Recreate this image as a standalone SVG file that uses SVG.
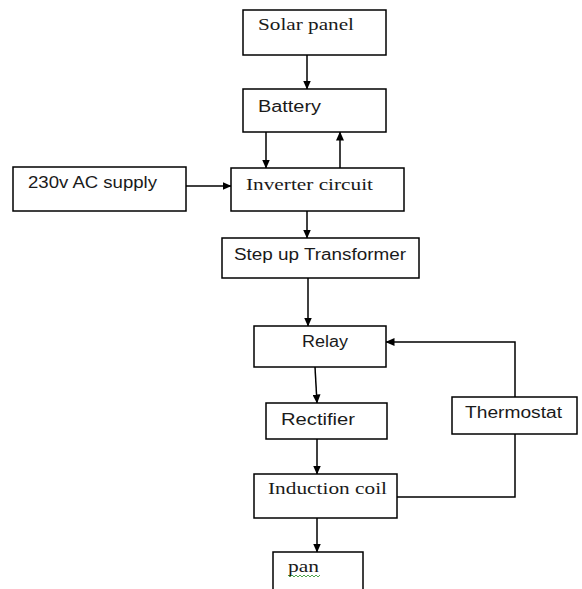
<svg xmlns="http://www.w3.org/2000/svg" width="582" height="589" viewBox="0 0 582 589">
<style>
.box{fill:#fff;stroke:#000;stroke-width:1.5}
.ln{fill:none;stroke:#000;stroke-width:1.5}
.sans{font-family:"Liberation Sans",Arial,sans-serif;font-size:16px;fill:#1a1a1a}
.serif{font-family:"Liberation Serif","Times New Roman",serif;font-size:17px;fill:#1a1a1a}
</style>
<defs>
<marker id="ah" markerWidth="9" markerHeight="8" refX="8.5" refY="4" orient="auto" markerUnits="userSpaceOnUse">
<path d="M0,0 L9,4 L0,8 Z" fill="#000"/>
</marker>
</defs>
<rect width="582" height="589" fill="#fff"/>
<g id="connectors">
<line class="ln" x1="307" y1="55" x2="307" y2="89" marker-end="url(#ah)"/>
<line class="ln" x1="266" y1="132" x2="266" y2="168" marker-end="url(#ah)"/>
<line class="ln" x1="340" y1="168" x2="340" y2="132" marker-end="url(#ah)"/>
<line class="ln" x1="186" y1="186" x2="231" y2="186" marker-end="url(#ah)"/>
<line class="ln" x1="307" y1="211" x2="307" y2="238" marker-end="url(#ah)"/>
<line class="ln" x1="308" y1="278" x2="308" y2="326" marker-end="url(#ah)"/>
<line class="ln" x1="315" y1="367" x2="317" y2="403" marker-end="url(#ah)"/>
<polyline class="ln" points="515,397 515,342 386,342" marker-end="url(#ah)"/>
<line class="ln" x1="317" y1="439" x2="317" y2="474" marker-end="url(#ah)"/>
<polyline class="ln" points="515,434 515,497 397,497"/>
<line class="ln" x1="317" y1="518" x2="317" y2="552" marker-end="url(#ah)"/>
</g>
<g id="solar">
<rect class="box" x="243" y="10" width="143" height="45"/>
<text class="serif" x="258" y="30" textLength="96" lengthAdjust="spacingAndGlyphs">Solar panel</text>
</g>
<g id="battery">
<rect class="box" x="243" y="89" width="143" height="43"/>
<text class="sans" x="258" y="112" textLength="63" lengthAdjust="spacingAndGlyphs">Battery</text>
</g>
<g id="ac">
<rect class="box" x="13" y="167" width="173" height="44"/>
<text class="sans" x="28" y="188" textLength="129" lengthAdjust="spacingAndGlyphs">230v AC supply</text>
</g>
<g id="inverter">
<rect class="box" x="231" y="168" width="173" height="43"/>
<text class="serif" x="246" y="190" textLength="127" lengthAdjust="spacingAndGlyphs">Inverter circuit</text>
</g>
<g id="transformer">
<rect class="box" x="222" y="238" width="197" height="40"/>
<text class="sans" x="234" y="260" textLength="172" lengthAdjust="spacingAndGlyphs">Step up Transformer</text>
</g>
<g id="relay">
<rect class="box" x="254" y="326" width="132" height="41"/>
<text class="sans" x="302" y="347" textLength="46" lengthAdjust="spacingAndGlyphs">Relay</text>
</g>
<g id="rectifier">
<rect class="box" x="266" y="403" width="121" height="36"/>
<text class="sans" x="281" y="425" textLength="74" lengthAdjust="spacingAndGlyphs">Rectifier</text>
</g>
<g id="thermostat">
<rect class="box" x="452" y="397" width="125" height="37"/>
<text class="sans" x="465" y="418" textLength="97" lengthAdjust="spacingAndGlyphs">Thermostat</text>
</g>
<g id="induction">
<rect class="box" x="254" y="474" width="143" height="44"/>
<text class="serif" x="268" y="494" textLength="119" lengthAdjust="spacingAndGlyphs">Induction coil</text>
</g>
<g id="pan">
<rect class="box" x="273" y="552" width="90" height="45"/>
<text class="serif" x="288" y="572" textLength="31" lengthAdjust="spacingAndGlyphs">pan</text>
<polyline points="288,575 290,577 292,575 294,577 296,575 298,577 300,575 302,577 304,575 306,577 308,575 310,577 312,575 314,577 316,575 318,577 320,575" fill="none" stroke="#3a9a3a" stroke-width="0.9"/>
</g>
</svg>
